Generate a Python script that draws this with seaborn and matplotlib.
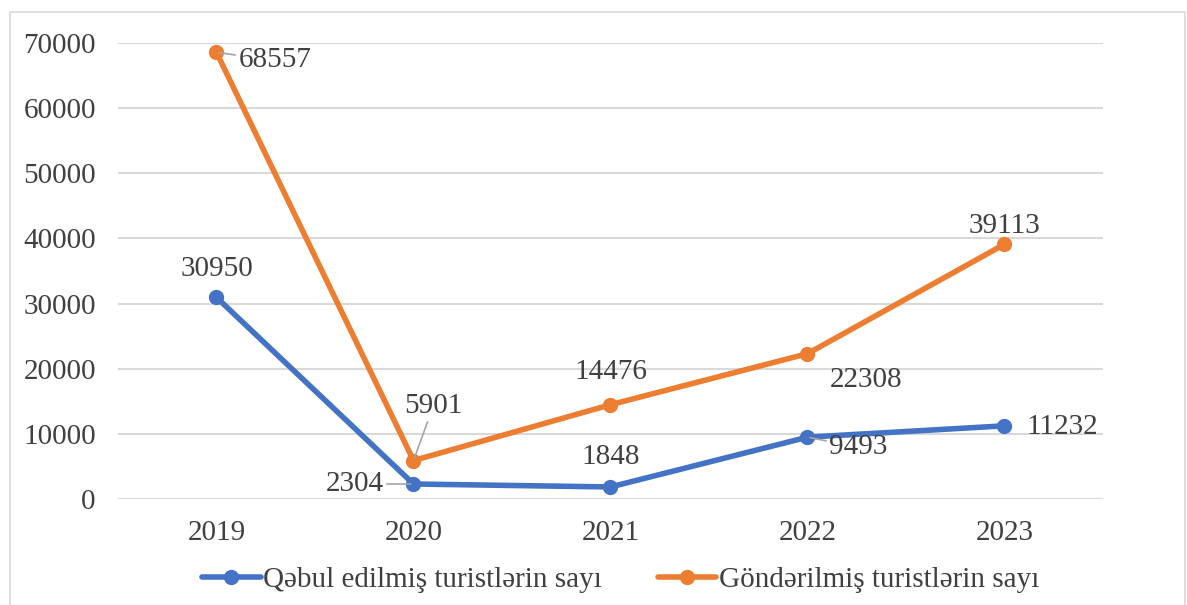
import pandas as pd
import matplotlib
matplotlib.use("Agg")
import matplotlib.pyplot as plt
from matplotlib.lines import Line2D
from matplotlib.patches import Rectangle
import seaborn as sns

years = [2019, 2020, 2021, 2022, 2023]
qebul = [30950, 2304, 1848, 9493, 11232]
gonderilmis = [68557, 5901, 14476, 22308, 39113]
series_names = ["Qəbul edilmiş turistlərin sayı", "Göndərilmiş turistlərin sayı"]
colors = ["#4472C4", "#ED7D31"]

sns.set_style("white")
plt.rcParams['font.family'] = ['Liberation Serif', 'DejaVu Serif']
text_color = "#404040"
fs = 21

df = pd.DataFrame({
    "year": years * 2,
    "value": qebul + gonderilmis,
    "series": [series_names[0]] * 5 + [series_names[1]] * 5,
})

fig = plt.figure(figsize=(11.87, 6.05), dpi=100)
ax = fig.add_axes([118 / 1187, 1 - 499 / 605, 985 / 1187, 456 / 605])

sns.lineplot(data=df, x="year", y="value", hue="series", palette=colors,
             marker="o", markersize=11, markeredgewidth=0, linewidth=4,
             legend=False, ax=ax, zorder=3)

ax.set_xlim(2018.5, 2023.5)
ax.set_ylim(0, 70000)
ax.set_yticks(range(0, 70001, 10000))
ax.set_xticks(years)
ax.set_xticklabels([str(y) for y in years])
ax.yaxis.grid(True, color="#D9D9D9", linewidth=1.5)
ax.set_axisbelow(True)
for s in ax.spines.values():
    s.set_visible(False)
ax.tick_params(axis="both", length=0, labelsize=fs, labelcolor=text_color)
ax.tick_params(axis="y", pad=16)
ax.tick_params(axis="x", pad=15)
ax.set_xlabel("")
ax.set_ylabel("")

# data labels: (offset x px, offset y px, ha, leader)
lab_q = [(0, 28, "center", False), (-30, 0, "right", True), (0, 30, "center", False),
         (22, -10, "left", True), (22, -1, "left", False)]
lab_g = [(22, -8, "left", True), (20, 55, "center", True), (0, 33, "center", False),
         (22, -26, "left", False), (0, 18, "center", False)]

for vals, labs in [(qebul, lab_q), (gonderilmis, lab_g)]:
    for x, v, (dx, dy, ha, leader) in zip(years, vals, labs):
        arrow = dict(arrowstyle="-", color="#A6A6A6", lw=1.2, shrinkA=0, shrinkB=2) if leader else None
        ax.annotate(str(v), xy=(x, v), xytext=(dx, dy), textcoords="offset pixels",
                    ha=ha, va="center", fontsize=fs, color=text_color,
                    arrowprops=arrow, zorder=4)

handles = [Line2D([0], [0], color=c, lw=4, marker="o", markersize=11, markeredgewidth=0)
           for c in colors]
fig.legend(handles, series_names, loc="center", bbox_to_anchor=(0.523, 1 - 580 / 605),
           ncol=2, frameon=False, fontsize=fs, handlelength=2.0, handletextpad=0.1,
           columnspacing=1.9, labelcolor=text_color)

fig.patches.append(Rectangle((10 / 1187, -0.01), 1175 / 1187, 1 - 12 / 605 + 0.01,
                             transform=fig.transFigure, fill=False,
                             edgecolor="#D9D9D9", linewidth=1.2))

fig.savefig("out.png", dpi=100)
